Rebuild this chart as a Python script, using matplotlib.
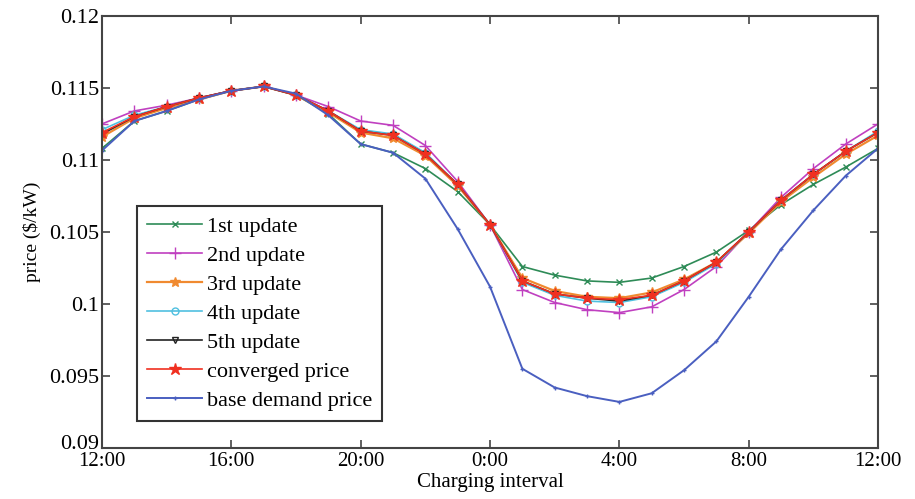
import matplotlib
matplotlib.use('Agg')
import matplotlib.pyplot as plt
import matplotlib.transforms as mtransforms
import numpy as np

hours = np.arange(25)
tick_labels = ['12:00', '16:00', '20:00', '0:00', '4:00', '8:00', '12:00']

upd1 = [0.1108, 0.1127, 0.1134, 0.1142, 0.1148, 0.1151, 0.1145, 0.1132, 0.1111, 0.1105,
        0.1094, 0.1078, 0.1055, 0.1026, 0.1020, 0.1016, 0.1015, 0.1018, 0.1026, 0.1036,
        0.1051, 0.1069, 0.1083, 0.1095, 0.1108]
upd2 = [0.1125, 0.1134, 0.1138, 0.1143, 0.1148, 0.1151, 0.1145, 0.1137, 0.1127, 0.1124,
        0.1110, 0.1085, 0.1055, 0.1010, 0.1001, 0.0996, 0.0994, 0.0998, 0.1010, 0.1026,
        0.1050, 0.1074, 0.1094, 0.1111, 0.1125]
upd3 = [0.1116, 0.1129, 0.1136, 0.1142, 0.1148, 0.1151, 0.1145, 0.1133, 0.1119, 0.1115,
        0.1103, 0.1082, 0.1055, 0.1018, 0.1009, 0.1005, 0.1004, 0.1008, 0.1017, 0.1029,
        0.1049, 0.1071, 0.1088, 0.1104, 0.1117]
upd4 = [0.1121, 0.1131, 0.1137, 0.1143, 0.1148, 0.1151, 0.1145, 0.1134, 0.1121, 0.1118,
        0.1105, 0.1083, 0.1055, 0.1015, 0.1006, 0.1002, 0.1001, 0.1005, 0.1015, 0.1028,
        0.1050, 0.1072, 0.1090, 0.1106, 0.1120]
upd5 = [0.1118, 0.1130, 0.1137, 0.1143, 0.1148, 0.1151, 0.1145, 0.1134, 0.1120, 0.1117,
        0.1104, 0.1083, 0.1055, 0.1016, 0.1007, 0.1004, 0.1002, 0.1006, 0.1016, 0.1029,
        0.1050, 0.1072, 0.1090, 0.1106, 0.1119]
converged = [0.1119, 0.1130, 0.1137, 0.1143, 0.1148, 0.1151, 0.1145, 0.1134, 0.1120, 0.1117,
             0.1104, 0.1083, 0.1055, 0.1016, 0.1007, 0.1004, 0.1003, 0.1006, 0.1016, 0.1029,
             0.1050, 0.1072, 0.1090, 0.1106, 0.1119]
base = [0.11065, 0.1127, 0.1134, 0.1142, 0.1148, 0.1151, 0.1146, 0.1131, 0.1111, 0.1105,
        0.1087, 0.1052, 0.1012, 0.0955, 0.0942, 0.0936, 0.0932, 0.0938, 0.0954, 0.0974,
        0.1005, 0.1038, 0.1065, 0.1089, 0.1108]

plt.rcParams['font.family'] = ['Liberation Serif', 'DejaVu Serif']

fig = plt.figure(figsize=(9.15, 4.99), dpi=100)
ax = fig.add_axes([0.1115, 0.1022, 0.8481, 0.866])

ax.plot(hours, upd1, color='#2e8b57', marker='x', ms=5, lw=1.2, label='1st update')
ax.plot(hours, upd2, color='#c040c0', marker='+', ms=9, lw=1.2, label='2nd update')
ax.plot(hours, upd3, color='#f08a30', marker='*', ms=7, lw=1.6, label='3rd update')
ax.plot(hours, upd4, color='#50c0e0', marker='o', ms=5, mfc='none', lw=1.2, label='4th update')
ax.plot(hours, upd5, color='#222222', marker='v', ms=5, mfc='none', lw=1.2, label='5th update')
ax.plot(hours, converged, color='#f03020', marker='*', ms=9, lw=1.2, label='converged price')
ax.plot(hours, base, color='#4a5fc0', marker='+', ms=3, lw=1.4, label='base demand price')

ax.set_xlim(0, 24)
ax.set_ylim(0.09, 0.12)
ax.set_xticks(np.arange(0, 25, 4))
ax.set_xticklabels(tick_labels)
ax.set_yticks([0.09, 0.095, 0.1, 0.105, 0.11, 0.115, 0.12])
ax.set_yticklabels(['0.09', '0.095', '0.1', '0.105', '0.11', '0.115', '0.12'])
ax.tick_params(direction='in', length=6, width=1.2, labelsize=16, top=True, right=True,
               pad=2, color='#444444')
ax.tick_params(axis='x', pad=3, labelsize=15)
for s in ax.spines.values():
    s.set_linewidth(1.5)
    s.set_color('#444444')

# lift the bottom y label a little so it clears 12:00
lbl = ax.get_yticklabels()[0]
lbl.set_transform(lbl.get_transform() + mtransforms.ScaledTranslation(0, 6 / 100, fig.dpi_scale_trans))

ax.set_xlabel('Charging interval', fontsize=15, labelpad=1)
ax.set_ylabel('price ($/kW)', fontsize=14, labelpad=6)

leg = ax.legend(loc='lower left', bbox_to_anchor=(0.045, 0.063), fontsize=16, fancybox=False,
                framealpha=1, edgecolor='#333333', borderpad=0.45, labelspacing=0.38,
                handlelength=2.5, handletextpad=0.2, borderaxespad=0)
leg.get_frame().set_linewidth(1.5)

fig.savefig('out.png', dpi=100)
